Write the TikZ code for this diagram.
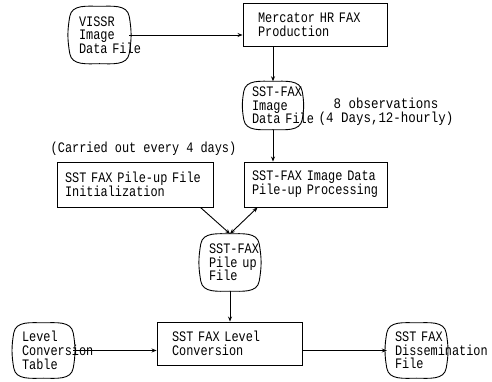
\documentclass[tikz,border=0pt]{standalone}
\usepackage{fontspec}
\usetikzlibrary{arrows.meta}
\newfontfamily\mono[FakeStretch=0.82]{Liberation Mono}
\newfontfamily\widemono[FakeStretch=0.86]{Liberation Mono}
\newcommand\labelfont{\mono\fontsize{14.5}{13.7}\selectfont\hyphenpenalty=10000 \exhyphenpenalty=10000 }
\newcommand\notefont{\widemono\fontsize{14.5}{14}\selectfont}

% outline of a file drum drawn around a node
\newcommand\fileoutline[1]{%
  \draw[outline] ([yshift=-10pt]#1.north west) to[out=80,in=180] (#1.north)
    to[out=0,in=100] ([yshift=-10pt]#1.north east)
    to[out=-80,in=80] ([yshift=10pt]#1.south east)
    to[out=-100,in=0] (#1.south)
    to[out=180,in=-80] ([yshift=10pt]#1.south west)
    to[out=100,in=-100] cycle;}

\tikzset{
  outline/.style={line width=0.9pt},
  txt/.style={font=\labelfont, inner sep=0pt},
  procbox/.style={txt, draw, line width=0.9pt, align=left, inner ysep=0pt},
  filedrum/.style={txt, align=left, inner ysep=0pt},
  flow/.style={line width=0.9pt, -{Stealth[length=5pt,width=4pt]}},
  twoway/.style={line width=0.9pt, {Stealth[length=5pt,width=4pt]}-{Stealth[length=5pt,width=4pt]}}
}

\begin{document}
\begin{tikzpicture}[x=1pt,y=1pt]
\useasboundingbox (0,0) rectangle (492,382);

% files
\node[filedrum, minimum height=57pt, text width=41pt, inner xsep=9pt] (vissr) at (99.5,347)
  {VISSR\\Image\\Data~File};
\node[filedrum, minimum height=48pt, text width=42pt, inner xsep=8pt] (imgfile) at (273,276.5)
  {SST-FAX\\Image\\Data~File};
\node[filedrum, minimum height=57pt, text width=42pt, inner xsep=8pt] (pilefile) at (230,119.5)
  {SST-FAX\\Pile~up\\File};
\node[filedrum, minimum height=55pt, text width=43pt, inner xsep=8pt] (table) at (43.5,31.5)
  {Level\\Conversion\\Table};
\node[filedrum, minimum height=55pt, text width=43pt, inner xsep=8pt] (dissem) at (416.5,31.5)
  {SST~FAX\\Dissemination\\File};
\foreach \f in {vissr,imgfile,pilefile,table,dissem} {\fileoutline{\f}}

% processes
\node[procbox, minimum height=43pt, text width=114pt, inner xsep=15pt] (merc) at (315,357.5)
  {Mercator HR FAX\\Production};
\node[procbox, minimum height=45pt, text width=140pt, inner xsep=8pt] (init) at (135,197.5)
  {SST FAX Pile-up File\\Initialization};
\node[procbox, minimum height=45pt, text width=127pt, inner xsep=8pt] (proc) at (315.5,197.5)
  {SST-FAX Image Data\\Pile-up Processing};
\node[procbox, minimum height=43pt, text width=115pt, inner xsep=15pt] (level) at (229.5,38.5)
  {SST FAX Level\\Conversion};

% notes
\node[txt, font=\notefont, align=center] (obs) at (386,270) {8 observations\\(4 Days,12-hourly)};
\node[txt] (cycle) at (143.5,233) {(Carried out every 4 days)};

% data flow
\draw[flow] (vissr.east) -- (vissr.east -| merc.west);
\draw[flow] (merc.south -| imgfile.north) -- (imgfile.north);
\draw[flow] (imgfile.south) -- (imgfile.south |- proc.north);
\draw[flow] ([xshift=-13pt]init.south east) -- (pilefile.north);
\draw[twoway] ([xshift=14pt]proc.south west) -- (pilefile.north);
\draw[flow] (pilefile.south) -- (pilefile.south |- level.north);
\draw[flow] (table.east) -- (table.east -| level.west);
\draw[flow] (level.east |- dissem.west) -- (dissem.west);
\end{tikzpicture}
\end{document}
